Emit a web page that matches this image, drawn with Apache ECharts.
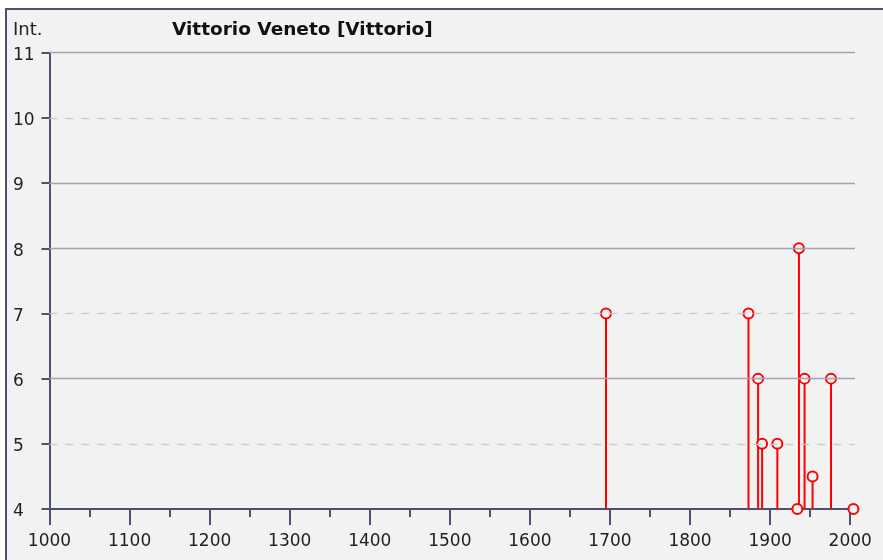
<!DOCTYPE html>
<html>
<head>
<meta charset="utf-8">
<script src="https://cdn.jsdelivr.net/npm/echarts@6/dist/echarts.min.js"></script>
<style>
    body { margin: 0; background: #fff; }
    #frame { position: absolute; left: 5px; top: 8px; width: 880px; height: 560px;
             background: #f2f2f2; border-top: 2px solid #4a5270; border-left: 2px solid #4a5270; }
    #main { position: absolute; left: 0; top: 0; width: 883px; height: 560px; }
</style>
</head>
<body>
<div id="frame"></div>
<div id="main"></div>
<script>
    /*----------  data  ----------*/
    var years = [1695, 1873, 1885, 1890, 1909, 1934, 1936, 1943, 1953, 1976, 2004];
    var intensities = [7, 7, 6, 5, 5, 4, 8, 6, 4.5, 6, 4];
    var yearTicks = [1000, 1100, 1200, 1300, 1400, 1500, 1600, 1700, 1800, 1900, 2000];
    var yearMinorTicks = [1050, 1150, 1250, 1350, 1450, 1550, 1650, 1750, 1850, 1950];
    var solidLevels = [6, 8, 9, 11];
    var dashedLevels = [5, 7, 10];
    var baseLevel = 4;

    var axisColor = '#4a5270';
    var font = 'DejaVu Sans';

    var points = years.map(function (y, i) { return [y, intensities[i]]; });

    var gridLines = solidLevels.map(function (v) {
        return { yAxis: v, lineStyle: { type: 'solid', color: '#a2a2b4', width: 1.3 } };
    }).concat(dashedLevels.map(function (v) {
        return { yAxis: v, lineStyle: { type: [8, 8], color: '#c8c8cc', width: 1.3 } };
    }));

    var chart = echarts.init(document.getElementById('main'));
    chart.setOption({
        animation: false,
        textStyle: { fontFamily: font },
        title: [{
            text: 'Int.',
            left: 13, top: 21, padding: 0,
            textStyle: { fontSize: 18, fontWeight: 'normal', color: '#222', fontFamily: font }
        }, {
            text: 'Vittorio Veneto [Vittorio]',
            left: 172, top: 21, padding: 0,
            textStyle: { fontSize: 18.5, fontWeight: 'bold', color: '#111', fontFamily: font }
        }],
        grid: { left: 49.5, right: 28, top: 52.7, bottom: 51 },
        xAxis: [{
            type: 'value',
            min: 1000, max: 2006,
            splitLine: { show: false },
            axisLine: { lineStyle: { color: axisColor, width: 2 } },
            axisTick: { show: true, inside: false, customValues: yearTicks, length: 16, lineStyle: { color: axisColor, width: 2 } },
            axisLabel: {
                customValues: yearTicks,
                fontSize: 17, color: '#222', margin: 24, fontFamily: font,
                formatter: function (v) { return String(v); }
            }
        }, {
            type: 'value',
            position: 'bottom',
            min: 1000, max: 2006,
            splitLine: { show: false },
            axisLine: { show: false },
            axisTick: { show: true, customValues: yearMinorTicks, length: 8, lineStyle: { color: axisColor, width: 2 } },
            axisLabel: { show: false }
        }],
        yAxis: {
            type: 'value',
            min: baseLevel, max: 11, interval: 1,
            splitLine: { show: false },
            axisLine: { show: true, lineStyle: { color: axisColor, width: 2 } },
            axisTick: { show: true, length: 8, lineStyle: { color: axisColor, width: 2 } },
            axisLabel: {
                align: 'left', margin: 36.5,
                formatter: function (v) { return '{a|' + v + '}'; },
                rich: { a: { fontSize: 17, color: '#222', fontFamily: font, padding: [6, 0, 0, 0] } }
            }
        },
        series: [{
            type: 'line',
            data: [],
            silent: true,
            markLine: {
                silent: true,
                symbol: 'none',
                label: { show: false },
                animation: false,
                data: gridLines
            },
            z: 1
        }, {
            type: 'custom',
            data: points,
            z: 3,
            renderItem: function (params, api) {
                var top = api.coord([api.value(0), api.value(1)]);
                var bottom = api.coord([api.value(0), baseLevel]);
                return {
                    type: 'line',
                    shape: { x1: top[0], y1: top[1], x2: bottom[0], y2: bottom[1] },
                    style: { stroke: '#ff0000', lineWidth: 2 }
                };
            }
        }, {
            type: 'scatter',
            data: points,
            z: 4,
            symbol: 'circle',
            symbolSize: 10,
            itemStyle: { color: '#f2f2f2', borderColor: '#ff0000', borderWidth: 2, opacity: 1 }
        }]
    });
</script>
</body>
</html>
